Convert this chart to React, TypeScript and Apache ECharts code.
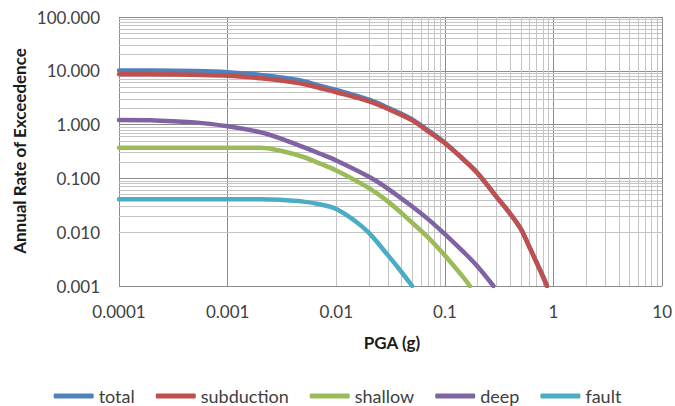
import React, { useEffect, useRef } from "react";
import * as echarts from "echarts";

// ---- data ----
const seriesNames = ["total", "subduction", "shallow", "deep", "fault"];
const seriesColors = ["#4F81BD", "#C0504D", "#9BBB59", "#8064A2", "#4BACC6"];

const pgaTotal = [0.0001, 0.0002, 0.0005, 0.001, 0.002, 0.003, 0.005, 0.007, 0.01, 0.02, 0.03, 0.05, 0.07, 0.1, 0.15, 0.2, 0.3, 0.4, 0.5, 0.6, 0.7, 0.8, 0.87];
const totalRate = [10.1, 10.1, 9.9, 9.4, 8.4, 7.6, 6.4, 5.3, 4.4, 2.9, 2.05, 1.25, 0.78, 0.46, 0.22, 0.125, 0.045, 0.022, 0.0115, 0.0053, 0.0027, 0.0015, 0.001];

const pgaSubduction = [0.0001, 0.0002, 0.0005, 0.001, 0.002, 0.003, 0.005, 0.007, 0.01, 0.02, 0.03, 0.05, 0.07, 0.1, 0.15, 0.2, 0.3, 0.4, 0.5, 0.6, 0.7, 0.8, 0.87];
const subductionRate = [8.6, 8.6, 8.4, 8.1, 7.3, 6.7, 5.7, 4.8, 4.0, 2.7, 1.95, 1.2, 0.75, 0.45, 0.22, 0.125, 0.045, 0.022, 0.0115, 0.0053, 0.0027, 0.0015, 0.001];

const pgaShallow = [0.0001, 0.0002, 0.0005, 0.001, 0.002, 0.003, 0.005, 0.007, 0.01, 0.02, 0.03, 0.05, 0.07, 0.1, 0.15, 0.17];
const shallowRate = [0.37, 0.37, 0.37, 0.37, 0.37, 0.33, 0.25, 0.19, 0.14, 0.066, 0.037, 0.015, 0.008, 0.0037, 0.0014, 0.001];

const pgaDeep = [0.0001, 0.0002, 0.0005, 0.001, 0.002, 0.003, 0.005, 0.007, 0.01, 0.02, 0.03, 0.05, 0.07, 0.1, 0.15, 0.2, 0.28];
const deepRate = [1.22, 1.2, 1.1, 0.93, 0.72, 0.56, 0.38, 0.29, 0.215, 0.107, 0.064, 0.03, 0.0175, 0.0092, 0.0042, 0.0023, 0.001];

const pgaFault = [0.0001, 0.0002, 0.0005, 0.001, 0.002, 0.003, 0.005, 0.007, 0.01, 0.015, 0.02, 0.03, 0.04, 0.05];
const faultRate = [0.041, 0.041, 0.041, 0.041, 0.041, 0.04, 0.037, 0.033, 0.027, 0.016, 0.0097, 0.0037, 0.0018, 0.001];

const xTickLabels = ["0.0001", "0.001", "0.01", "0.1", "1", "10"];
const yTickLabels = ["0.001", "0.010", "0.100", "1.000", "10.000", "100.000"];
const xMinorLines = [
  0.0002, 0.0003, 0.0004, 0.0005, 0.0006, 0.0007, 0.0008, 0.0009,
  0.002, 0.003, 0.004, 0.005, 0.006, 0.007, 0.008, 0.009,
  0.02, 0.03, 0.04, 0.05, 0.06, 0.07, 0.08, 0.09,
  0.2, 0.3, 0.4, 0.5, 0.6, 0.7, 0.8, 0.9,
  2, 3, 4, 5, 6, 7, 8, 9,
];
const yMinorLines = [
  0.002, 0.003, 0.004, 0.005, 0.006, 0.007, 0.008, 0.009,
  0.02, 0.03, 0.04, 0.05, 0.06, 0.07, 0.08, 0.09,
  0.2, 0.3, 0.4, 0.5, 0.6, 0.7, 0.8, 0.9,
  2, 3, 4, 5, 6, 7, 8, 9,
  20, 30, 40, 50, 60, 70, 80, 90,
];

const xTitle = "PGA (g)";
const yTitle = "Annual Rate of Exceedence";

const FONT = "Lato, 'Noto Sans', sans-serif";

export default function App() {
  const ref = useRef<HTMLDivElement>(null);

  useEffect(() => {
    if (!ref.current) return;
    const chart = echarts.init(ref.current, undefined, { renderer: "svg" });

    const xs = [pgaTotal, pgaSubduction, pgaShallow, pgaDeep, pgaFault];
    const ys = [totalRate, subductionRate, shallowRate, deepRate, faultRate];

    const lineSeries = seriesNames.map((name, i) => ({
      name,
      type: "line",
      data: xs[i].map((x, j) => [x, ys[i][j]]),
      symbol: "none",
      showSymbol: false,
      smooth: 0.35,
      z: 3,
      color: seriesColors[i],
      itemStyle: { color: seriesColors[i] },
      lineStyle: { color: seriesColors[i], width: 4.5, cap: "round", join: "round" },
    }));

    const gridSeries = {
      name: "minorGrid",
      type: "line",
      data: [],
      silent: true,
      z: 1,
      markLine: {
        silent: true,
        z: 1,
        symbol: ["none", "none"],
        label: { show: false },
        animation: false,
        lineStyle: { color: "#C4C4C4", width: 1, type: "solid" },
        emphasis: { disabled: true },
        data: [
          ...xMinorLines.map((v) => ({ xAxis: v })),
          ...yMinorLines.map((v) => ({ yAxis: v })),
        ],
      },
    };

    chart.setOption({
      animation: false,
      backgroundColor: "#ffffff",
      textStyle: { fontFamily: FONT },
      grid: { left: 119, right: 10, top: 17, bottom: 120, containLabel: false },
      xAxis: {
        type: "log",
        logBase: 10,
        min: 0.0001,
        max: 10,
        axisLine: { show: false },
        axisTick: { show: false },
        splitLine: { show: true, lineStyle: { color: "#8C8C8C", width: 1 } },
        axisLabel: {
          show: true,
          showMinLabel: true,
          showMaxLabel: true,
          margin: 17,
          color: "#404040",
          fontSize: 17,
          fontFamily: FONT,
          formatter: (_v: number, idx: number) => xTickLabels[idx] ?? "",
        },
      },
      yAxis: {
        type: "log",
        logBase: 10,
        min: 0.001,
        max: 100,
        axisLine: { show: false },
        axisTick: { show: false },
        splitLine: { show: true, lineStyle: { color: "#8C8C8C", width: 1 } },
        axisLabel: {
          show: true,
          showMinLabel: true,
          showMaxLabel: true,
          margin: 19,
          color: "#404040",
          fontSize: 17,
          fontFamily: FONT,
          formatter: (_v: number, idx: number) => yTickLabels[idx] ?? "",
        },
      },
      legend: {
        data: seriesNames,
        top: 382,
        left: "center",
        icon: "roundRect",
        itemWidth: 40,
        itemHeight: 5,
        itemGap: 21,
        textStyle: { fontSize: 18, color: "#404040", fontFamily: FONT },
      },
      graphic: [
        {
          type: "text",
          x: 392,
          y: 342,
          style: {
            text: xTitle,
            fontSize: 17,
            fontWeight: "bold",
            fontFamily: FONT,
            fill: "#1a1a1a",
            align: "center",
            verticalAlign: "middle",
          },
        },
        {
          type: "text",
          x: 19,
          y: 151,
          rotation: Math.PI / 2,
          style: {
            text: yTitle,
            fontSize: 17,
            fontWeight: "bold",
            fontFamily: FONT,
            fill: "#1a1a1a",
            align: "center",
            verticalAlign: "middle",
          },
        },
      ],
      series: [gridSeries, ...lineSeries],
    });

    return () => chart.dispose();
  }, []);

  return (
    <div
      ref={ref}
      style={{ position: "fixed", left: 0, top: 0, width: 675, height: 406, background: "#fff" }}
    />
  );
}
